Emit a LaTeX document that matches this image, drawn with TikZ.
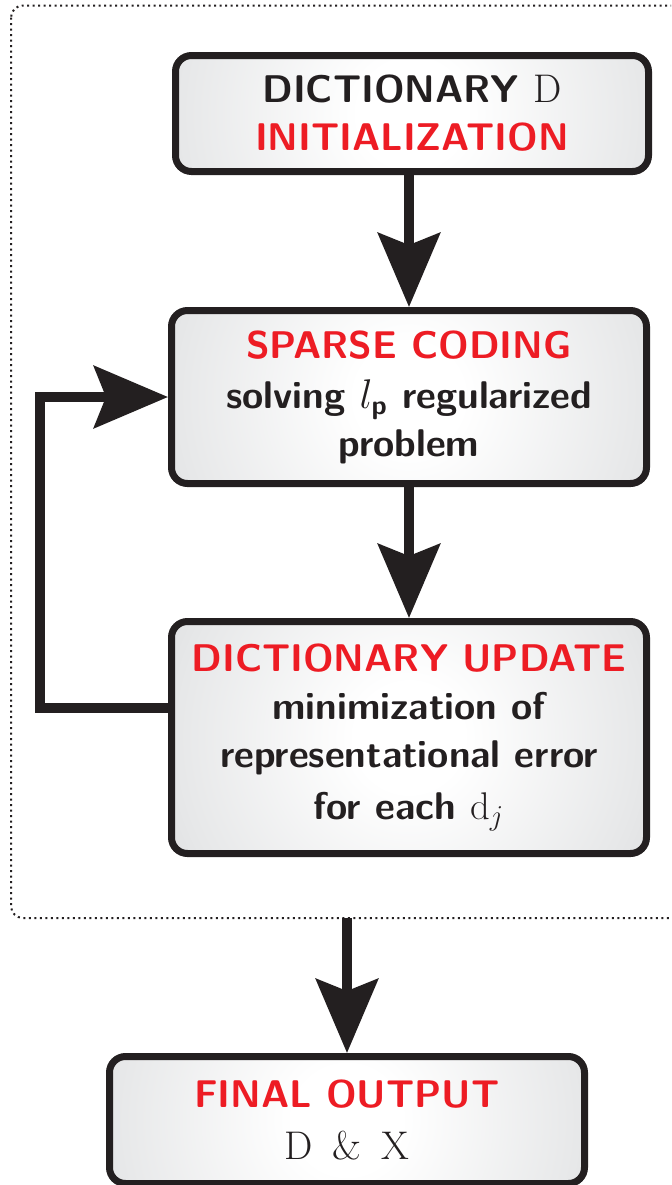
\documentclass[tikz,border=0pt]{standalone}
\usepackage{amsmath}
\usetikzlibrary{arrows.meta}
\definecolor{ink}{HTML}{231F20}
\definecolor{hot}{HTML}{ED1C24}
\definecolor{edgegray}{HTML}{BFC0C2}
\definecolor{midgray}{HTML}{E6E7E8}
\definecolor{cornergray}{HTML}{B8B9BB}
\pgfdeclareradialshading{boxshade}{\pgfpoint{0bp}{0bp}}{color(0bp)=(white); color(5bp)=(white); color(22bp)=(midgray); color(44bp)=(edgegray); color(50bp)=(cornergray)}
\newcommand{\rmtxt}[1]{{\rmfamily\mdseries #1}}
\tikzset{
  box/.style={draw=ink, line width=3.5pt, rounded corners=8pt, fill=edgegray,
    path picture={\shade[shading=boxshade] (path picture bounding box.center) circle[radius=135pt];},
    align=center, text=ink, inner sep=0pt,
    font=\fontsize{19.3}{24}\selectfont\sffamily\bfseries},
  conn/.style={draw=ink, line width=4.75pt, -{Stealth[length=37pt,width=31pt,inset=6pt]}},
  frame/.style={draw=ink, line width=1pt, dash pattern=on 1pt off 1.75pt, rounded corners=6pt},
}
\begin{document}
\begin{tikzpicture}[x=0.5pt,y=-0.5pt]
\clip (0,0) rectangle (671,1185);
\draw[frame] (11,5.5) rectangle (700,918);
\node[box, minimum width=236.5pt, minimum height=58pt] (A) at (412,113.5)
  {DICTIONARY \rmtxt{\fontsize{20}{24}\selectfont D}\\\textcolor{hot}{INITIALIZATION}};
\node[box, minimum width=237.5pt, minimum height=86.5pt] (B) at (409,397)
  {\textcolor{hot}{SPARSE CODING}\\[1pt]solving $l_{\text{p}}$ regularized\\problem};
\node[box, minimum width=237.5pt, minimum height=116pt] (C) at (409,737.5)
  {\textcolor{hot}{DICTIONARY UPDATE}\\minimization of\\representational error\\[2pt]for each \rmtxt{d}$_j$};
\node[box, minimum width=237.5pt, minimum height=63.5pt] (D) at (347,1120)
  {\textcolor{hot}{FINAL OUTPUT}\\[2pt]\rmtxt{\fontsize{20}{24}\selectfont D\hspace{10pt}\&\hspace{10pt}X}};
\coordinate (fb) at (40,708);
\coordinate (fo) at (347,918);
\draw[conn] (B.north |- A.south) -- (B.north);
\draw[conn] (B.south) -- (C.north);
\draw[conn] (C.west |- fb) -- (fb) |- (B.west);
\draw[conn] (fo) -- (D.north);
\end{tikzpicture}
\end{document}
